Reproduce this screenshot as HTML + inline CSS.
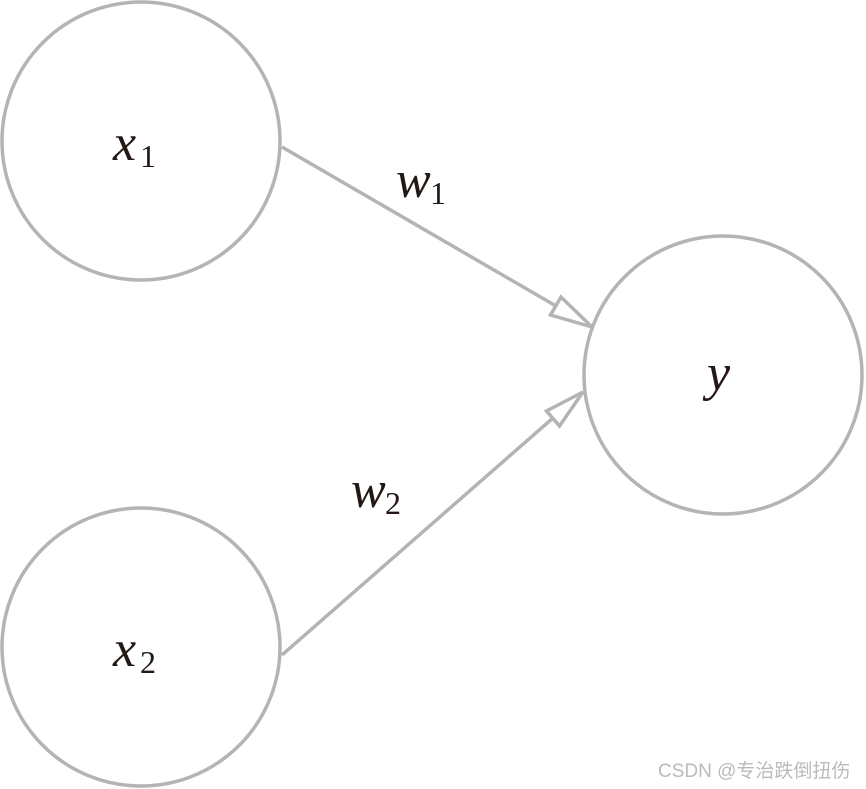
<!DOCTYPE html>
<html><head><meta charset="utf-8"><style>
html,body{margin:0;padding:0;background:#fff;}
svg{display:block;}
text{font-family:"Liberation Serif",serif;}
</style></head><body>
<svg width="866" height="789" viewBox="0 0 866 789" xmlns="http://www.w3.org/2000/svg">
<g fill="none" stroke="#b4b4b4" stroke-width="3.5">
<circle cx="141" cy="141" r="139"/>
<circle cx="141" cy="647" r="139"/>
<circle cx="723" cy="375" r="139"/>
<line x1="282" y1="147" x2="556" y2="306"/>
<line x1="282" y1="655" x2="553" y2="418"/>
<polygon points="592,327 550.5,315 561,297"/>
<polygon points="583,392 559.5,426 546.5,411"/>
</g>
<g fill="#231815">
<text x="113" y="160" font-size="52" font-style="italic">x</text>
<text x="140" y="167" font-size="32">1</text>
<text x="113" y="666" font-size="52" font-style="italic">x</text>
<text x="140" y="673" font-size="32">2</text>
<text x="396" y="197" font-size="52" font-style="italic">w</text>
<text x="430" y="204" font-size="32">1</text>
<text x="351" y="507" font-size="52" font-style="italic">w</text>
<text x="385" y="514" font-size="32">2</text>
<text x="707" y="390" font-size="52" font-style="italic">y</text>
</g>
<text x="658" y="777" style="font-family:'Liberation Sans','Noto Sans CJK SC',sans-serif" font-size="19" fill="#bbbbbb">CSDN @专治跌倒扭伤</text>
</svg>
</body></html>
